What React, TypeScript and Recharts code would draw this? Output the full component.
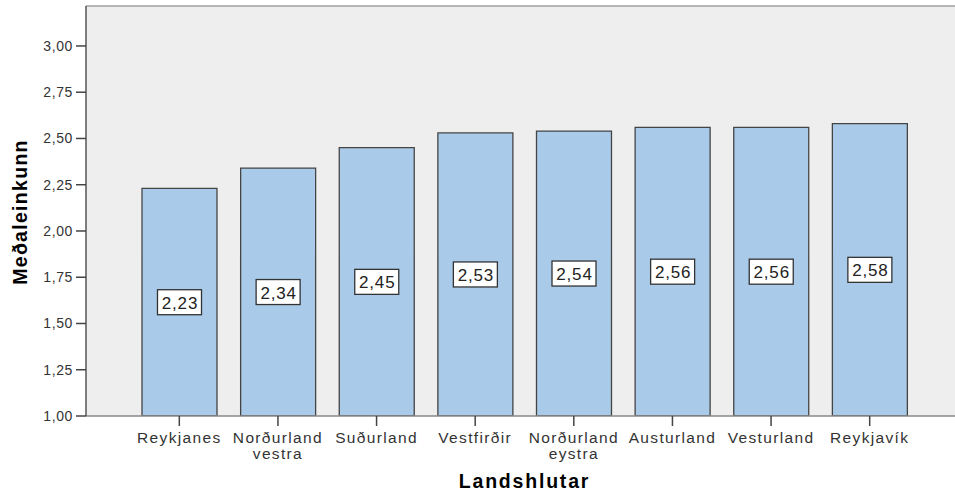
import React from "react";
import {
  BarChart,
  Bar,
  XAxis,
  YAxis,
  CartesianGrid,
  LabelList,
  ReferenceLine,
} from "recharts";

// Regions and their mean grades
const regions = [
  "Reykjanes",
  "Norðurland vestra",
  "Suðurland",
  "Vestfirðir",
  "Norðurland eystra",
  "Austurland",
  "Vesturland",
  "Reykjavík",
];
const means = [2.23, 2.34, 2.45, 2.53, 2.54, 2.56, 2.56, 2.58];
const yTicks = [1.0, 1.25, 1.5, 1.75, 2.0, 2.25, 2.5, 2.75, 3.0];
const yDomainMax = 3.216;

const data = regions.map((region, i) => ({ region, mean: means[i] }));

const FONT = "'Liberation Sans', Arial, sans-serif";
const fmt = (v: number) => v.toFixed(2).replace(".", ",");

const AXIS_Y = 416;

// Category tick: wraps two-word names onto two lines
const RegionTick = (props: any) => {
  const { x, payload } = props;
  const words = String(payload.value).split(" ");
  return (
    <g transform={`translate(${x},${AXIS_Y})`}>
      <line x1={0} y1={0} x2={0} y2={10} stroke="#444" strokeWidth={1.5} />
      {words.map((w, i) => (
        <text
          key={i}
          x={0}
          y={i === 0 ? 27 : 42.5}
          textAnchor="middle"
          fontFamily={FONT}
          fontSize={15.5}
          letterSpacing={1.35}
          fill="#333"
        >
          {w}
        </text>
      ))}
    </g>
  );
};

// Boxed value label centred in each bar
const ValueBox = (props: any) => {
  const { x, y, width, height, value } = props;
  const cx = x + width / 2;
  const cy = y + height / 2;
  const w = 44;
  const h = 25;
  return (
    <g>
      <rect
        x={cx - w / 2}
        y={cy - h / 2}
        width={w}
        height={h}
        fill="#ffffff"
        stroke="#333"
        strokeWidth={1.3}
      />
      <text
        x={cx + 0.5}
        y={cy + 6.5}
        textAnchor="middle"
        fontFamily={FONT}
        fontSize={17}
        letterSpacing={0.8}
        fill="#222"
      >
        {fmt(value)}
      </text>
    </g>
  );
};

export default function App() {
  return (
    <div style={{ position: "absolute", left: 0, top: 0, background: "#fff" }}>
      <BarChart
        width={955}
        height={492}
        data={data}
        margin={{ top: 6, right: 0, bottom: 0, left: 0 }}
        barSize={75}
      >
        <CartesianGrid
          fill="#eeeeee"
          horizontal={false}
          vertical={false}
          stroke="none"
        />
        <ReferenceLine y={yDomainMax} stroke="#b5b5b5" strokeWidth={2} />
        <XAxis
          dataKey="region"
          height={76}
          padding={{ left: 44, right: 36 }}
          axisLine={{ stroke: "#888", strokeWidth: 1.5 }}
          tickLine={false}
          interval={0}
          tick={<RegionTick />}
          label={{
            content: (p: any) => {
              const vb = p.viewBox;
              return (
                <text
                  x={vb.x + vb.width / 2 + 4}
                  y={488}
                  textAnchor="middle"
                  fontFamily={FONT}
                  fontWeight="bold"
                  fontSize={19.5}
                  letterSpacing={1.8}
                  fill="#000"
                >
                  Landshlutar
                </text>
              );
            },
          }}
        />
        <YAxis
          width={86}
          domain={[1, yDomainMax]}
          ticks={yTicks}
          allowDataOverflow
          tickFormatter={fmt}
          tickSize={10}
          tickMargin={3}
          axisLine={{ stroke: "#555", strokeWidth: 1.5 }}
          tickLine={{ stroke: "#444", strokeWidth: 1.5 }}
          tick={{
            fontFamily: FONT,
            fontSize: 14,
            letterSpacing: 0.6,
            fill: "#333",
          }}
          label={{
            content: (p: any) => {
              const vb = p.viewBox;
              const cx = vb.x + 20;
              const cy = vb.y + vb.height / 2 + 1;
              return (
                <text
                  x={cx}
                  y={cy}
                  transform={`rotate(-90, ${cx}, ${cy})`}
                  textAnchor="middle"
                  dominantBaseline="central"
                  fontFamily={FONT}
                  fontWeight="bold"
                  fontSize={19.5}
                  letterSpacing={1.3}
                  fill="#000"
                >
                  Meðaleinkunn
                </text>
              );
            },
          }}
        />
        <Bar
          dataKey="mean"
          fill="#a9cbe9"
          stroke="#444"
          strokeWidth={1.3}
          isAnimationActive={false}
        >
          <LabelList dataKey="mean" content={<ValueBox />} />
        </Bar>
      </BarChart>
    </div>
  );
}
